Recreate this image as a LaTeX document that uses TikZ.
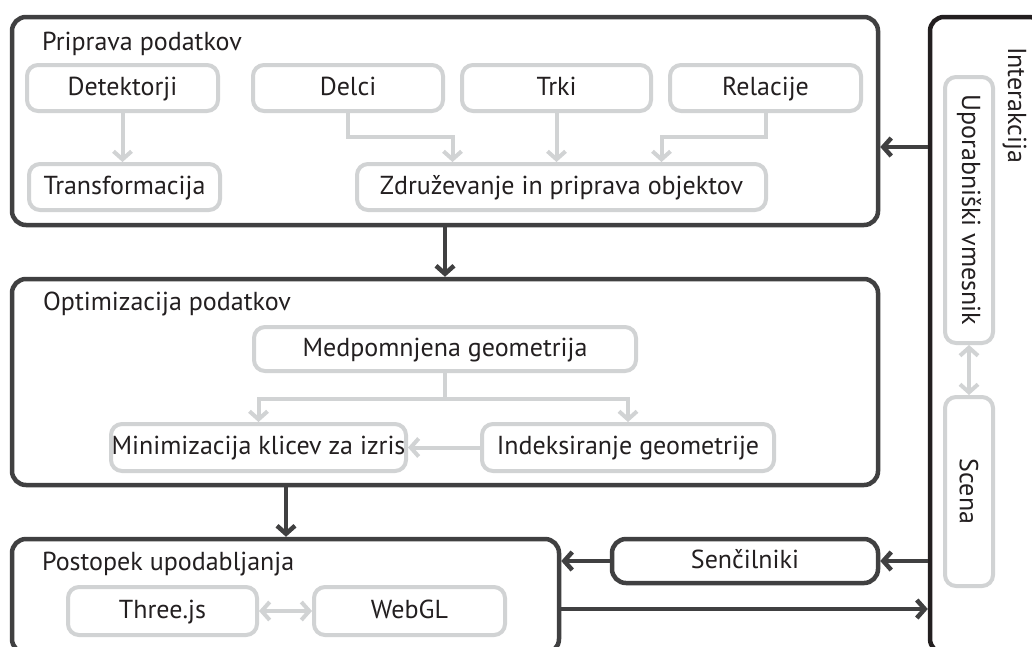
\documentclass[tikz,border=0pt]{standalone}
\usepackage{fontspec}
\setmainfont{PT Sans}
\usetikzlibrary{arrows.meta,calc}
\definecolor{dk}{RGB}{64,64,65}
\definecolor{ink}{RGB}{35,31,32}
\definecolor{lt}{RGB}{209,211,212}
\tikzset{
  txtbase/.style={rectangle, inner sep=0pt, align=center, text=ink,
    font=\fontsize{26}{30}\selectfont, text height=20pt, text depth=6pt},
  dbox/.style={txtbase, draw=dk, line width=4.5pt, rounded corners=14pt},
  lbox/.style={txtbase, draw=lt, line width=4pt, rounded corners=11pt},
  barb/.style={Straight Barb[length=8pt,width=18pt]},
  ltarrow/.style={draw=lt, line width=4pt, -{Straight Barb[length=8pt,width=18pt]}},
  ltboth/.style={draw=lt, line width=4pt, {Straight Barb[length=8pt,width=18pt]}-{Straight Barb[length=8pt,width=18pt]}},
  dkarrow/.style={draw=dk, line width=4.5pt, -{Straight Barb[length=8pt,width=18pt]}},
  ttl/.style={anchor=base west, inner sep=0pt, text=ink, font=\fontsize{26}{30}\selectfont},
  rot/.style={rotate=-90, inner sep=0pt, text=ink, font=\fontsize{26}{30}\selectfont}
}
\begin{document}
\begin{tikzpicture}[x=1pt,y=-1pt]
\useasboundingbox (0,0) rectangle (1032,646);
\clip (0,0) rectangle (1032,646);
\fill[white] (0,0) rectangle (1032,646);

% big containers
\node[dbox, minimum width=866pt, minimum height=208pt] (box1) at (445,121) {};
\node[dbox, minimum width=866pt, minimum height=206pt] (box2) at (445,382) {};
\node[dbox, minimum width=547pt, minimum height=114pt] (box3) at (285.5,596) {};
\node[dbox, minimum width=266pt, minimum height=44pt] (senc) at (745,561) {Senčilniki};
\node[dbox, draw=ink, minimum width=113pt, minimum height=636pt] (inter) at (986.5,335) {};

% titles
\node[ttl] (t1) at (42,50) {Priprava podatkov};
\node[ttl] (t2) at (43,310) {Optimizacija podatkov};
\node[ttl] (t3) at (42,570) {Postopek upodabljanja};
\node[rot, anchor=base west] (t4) at (1008,47) {Interakcija};

% inner boxes: Priprava
\node[lbox, minimum width=191pt, minimum height=46pt] (det) at (122.5,88) {Detektorji};
\node[lbox, minimum width=190pt, minimum height=46pt] (delci) at (348,88) {Delci};
\node[lbox, minimum width=189pt, minimum height=46pt] (trki) at (556.5,88) {Trki};
\node[lbox, minimum width=191pt, minimum height=46pt] (rel) at (765.5,88) {Relacije};
\node[lbox, minimum width=191pt, minimum height=46pt] (trans) at (124.5,187) {Transformacija};
\node[lbox, minimum width=409pt, minimum height=46pt] (zdr) at (561.5,187) {Združevanje in priprava objektov};

% Optimizacija
\node[lbox, minimum width=382pt, minimum height=44pt] (medp) at (445,349) {Medpomnjena geometrija};
\node[lbox, minimum width=295pt, minimum height=47pt] (min) at (258.5,447.5) {Minimizacija klicev za izris};
\node[lbox, minimum width=292pt, minimum height=47pt] (ind) at (628,447.5) {Indeksiranje geometrije};

% Upodabljanje
\node[lbox, minimum width=189pt, minimum height=48pt] (three) at (162.5,611) {Three.js};
\node[lbox, minimum width=191pt, minimum height=48pt] (webgl) at (409.5,611) {WebGL};

% Interakcija
\node[lbox, minimum width=48pt, minimum height=266pt,
  label={[rot]center:Uporabniški vmesnik}] (upor) at (969,210) {};
\node[lbox, minimum width=48pt, minimum height=189pt,
  label={[rot]center:Scena}] (scena) at (969,491.5) {};

% light connectors
\draw[ltarrow] (det.south) -- (det.south |- trans.north);
\draw[ltarrow] (delci.south) -- ++(0,24) -| ([xshift=-109pt]zdr.north);
\draw[ltarrow] (trki.south) -- (trki.south |- zdr.north);
\draw[ltarrow] (rel.south) -- ++(0,24) -| ([xshift=100pt]zdr.north);
\draw[ltarrow] (medp.south) -- ++(0,26) -| (min.north);
\draw[ltarrow] (medp.south) -- ++(0,26) -| (ind.north);
\draw[ltarrow] (ind.west) -- (min.east);
\draw[ltboth] (three.east) -- (webgl.west);
\draw[ltboth] (upor.south) -- (scena.north);

% dark connectors
\draw[dkarrow] (inter.west |- 0,147) -- (box1.east |- 0,147);
\draw[dkarrow] (box1.south) -- (box2.north);
\draw[dkarrow] (box2.south -| 286,0) -- (box3.north -| 286,0);
\draw[dkarrow] (inter.west |- senc.east) -- (senc.east);
\draw[dkarrow] (senc.west) -- (senc.west -| box3.east);
\draw[dkarrow] (box3.east |- 0,609) -- (inter.west |- 0,609);
\end{tikzpicture}
\end{document}
